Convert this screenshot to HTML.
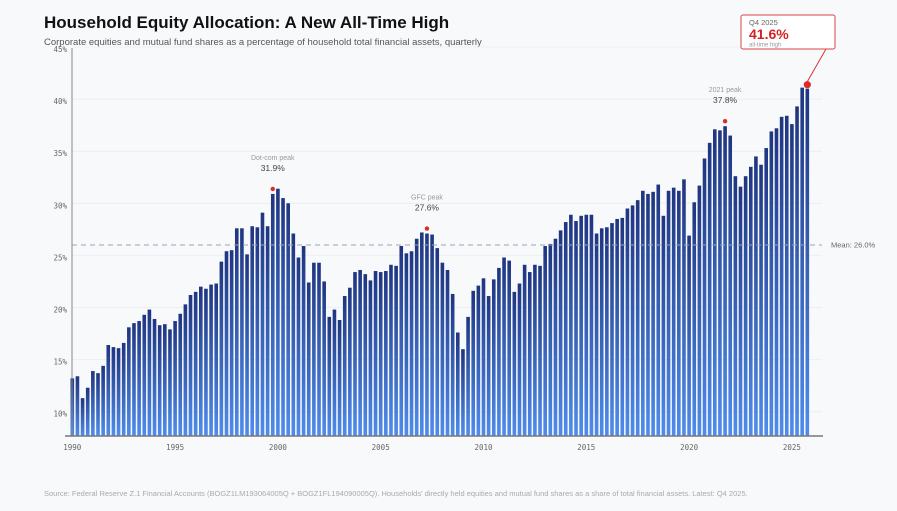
<!DOCTYPE html>
<html><head><meta charset="utf-8"><style>
body{margin:0;background:#f8f9fb;font-family:"Liberation Sans",sans-serif;}
svg{display:block}
</style></head><body>
<svg id="chart" width="897" height="511" xmlns="http://www.w3.org/2000/svg">
<defs><linearGradient id="bg" x1="0" y1="0" x2="0" y2="1"><stop offset="0" stop-color="#1f3580"/><stop offset="1" stop-color="#4f8cec"/></linearGradient></defs>
<rect width="897" height="511" fill="#f8f9fb"/>
<text x="44" y="28" font-size="17" font-weight="bold" fill="#111">Household Equity Allocation: A New All-Time High</text>
<text x="44" y="45" font-size="9.5" fill="#555">Corporate equities and mutual fund shares as a percentage of household total financial assets, quarterly</text>
<g id="grid"></g><g id="bars"></g><g id="axes"></g><g id="annot"></g>
<text x="44" y="496" font-size="7.5" fill="#aaa">Source: Federal Reserve Z.1 Financial Accounts (BOGZ1LM193064005Q + BOGZ1FL194090005Q). Households' directly held equities and mutual fund shares as a share of total financial assets. Latest: Q4 2025.</text>
</svg>
<script>
const startYear = 1990;
const values = [13.2,13.4,11.3,12.3,13.9,13.7,14.4,16.4,16.2,16.1,16.6,18.1,18.5,18.7,19.3,19.8,18.9,18.3,18.4,17.9,18.7,19.4,20.3,21.2,21.5,22.0,21.8,22.2,22.3,24.4,25.4,25.5,27.6,27.6,25.1,27.8,27.7,29.1,
27.8,30.9,31.4,30.5,30.0,27.1,24.8,25.9,22.4,24.3,24.3,22.5,19.1,19.8,18.8,21.1,21.9,23.4,23.6,23.2,22.6,23.5,23.4,23.5,24.1,24.0,25.9,25.2,25.4,26.6,27.2,27.1,27.0,25.7,24.3,23.6,21.3,
17.6,16.0,19.1,21.6,22.1,22.8,21.1,22.7,23.8,24.8,24.5,21.5,22.3,24.1,23.4,24.1,24.0,25.9,26.1,26.6,27.4,28.2,28.9,28.3,28.8,28.9,28.9,27.1,27.6,27.7,28.1,28.5,28.6,29.5,29.8,30.3,31.2,
30.9,31.1,31.8,28.8,31.2,31.5,31.2,32.3,26.9,30.1,31.7,34.3,35.8,37.1,37.0,37.4,36.5,32.6,31.6,32.6,33.5,34.5,33.7,35.3,36.9,37.2,38.3,38.4,37.6,39.3,41.1,41.0];
const yTicks = [10,15,20,25,30,35,40,45];
const xTickYears = [1990,1995,2000,2005,2010,2015,2020,2025];
const meanValue = 26.0;
const peakIdx = [39,69,127];
const peakNames = ["Dot-com peak","GFC peak","2021 peak"];
const peakLabels = ["31.9%","27.6%","37.8%"];
const NS="http://www.w3.org/2000/svg";
const y = v => 411.7 - (v-10)*10.42;
const x = i => 72.3 + i*5.14;
const xYear = yr => x((yr-startYear)*4);
function mk(tag, attrs, parent, text){const e=document.createElementNS(NS,tag);for(const k in attrs)e.setAttribute(k,attrs[k]);if(text!==undefined)e.textContent=text;parent.appendChild(e);return e;}
const grid=document.getElementById('grid'), bars=document.getElementById('bars'), axes=document.getElementById('axes'), an=document.getElementById('annot');
yTicks.forEach(t=>{
  const l=mk('line',{x1:72,x2:822,y1:y(t),y2:y(t),stroke:'#eceef2','stroke-width':1},grid);
  
  
  const tx=mk('text',{x:67,y:y(t)+5,'font-size':7.5,'text-anchor':'end',fill:'#666','font-family':'DejaVu Sans Mono, monospace'},axes,t+'%');
  
  
});
values.forEach((v,i)=>{
  const r=mk('rect',{x:x(i)-1.8,y:y(v),width:3.6,height:436-y(v),fill:'url(#bg)'},bars);
  
  
});
const ml=mk('line',{x1:72,x2:822,y1:y(meanValue),y2:y(meanValue),stroke:'#9aa4b8','stroke-width':1,'stroke-dasharray':'5,4'},axes);


const mt=mk('text',{x:831,y:y(meanValue)+2.5,'font-size':7.5,fill:'#666'},axes,'Mean: '+meanValue.toFixed(1)+'%');


const va=mk('line',{x1:72,x2:72,y1:48,y2:436,stroke:'#888','stroke-width':1},axes);


const ha=mk('line',{x1:65,x2:823,y1:436,y2:436,stroke:'#777','stroke-width':1.5},axes);


xTickYears.forEach(yr=>{
  const t=mk('text',{x:xYear(yr),y:450,'font-size':7.5,'text-anchor':'middle',fill:'#666','font-family':'DejaVu Sans Mono, monospace'},axes,String(yr));
  
  
});
peakIdx.forEach((p,k)=>{
  const cx=x(p), cy=y(values[p])-5;
  const d=mk('circle',{cx:cx,cy:cy,r:2.2,fill:'#e02a2a'},an);
  
  
  const n=mk('text',{x:cx,y:cy-29,'font-size':7,'text-anchor':'middle',fill:'#999'},an,peakNames[k]);
  
  
  const l=mk('text',{x:cx,y:cy-18,'font-size':8.5,'text-anchor':'middle',fill:'#444'},an,peakLabels[k]);
  
  
});
const last=values.length-1, lx=x(last), ly=y(values[last])-4;
const ld=mk('circle',{cx:lx,cy:ly,r:3.6,fill:'#e02a2a'},an);


const cl=mk('line',{x1:lx,y1:ly-3,x2:826,y2:49,stroke:'#d33','stroke-width':1},an);


const cb=mk('rect',{x:741,y:15,width:94,height:34,rx:2,fill:'#fff',stroke:'#d94444','stroke-width':1},an);


const c1=mk('text',{x:749,y:25,'font-size':7.5,fill:'#666'},an,'Q4 2025');


const c2=mk('text',{x:749,y:39,'font-size':14,'font-weight':'bold',fill:'#d42020'},an,'41.6%');


const c3=mk('text',{x:749,y:46.5,'font-size':6,fill:'#999'},an,'all-time high');


</script>
</body></html>
